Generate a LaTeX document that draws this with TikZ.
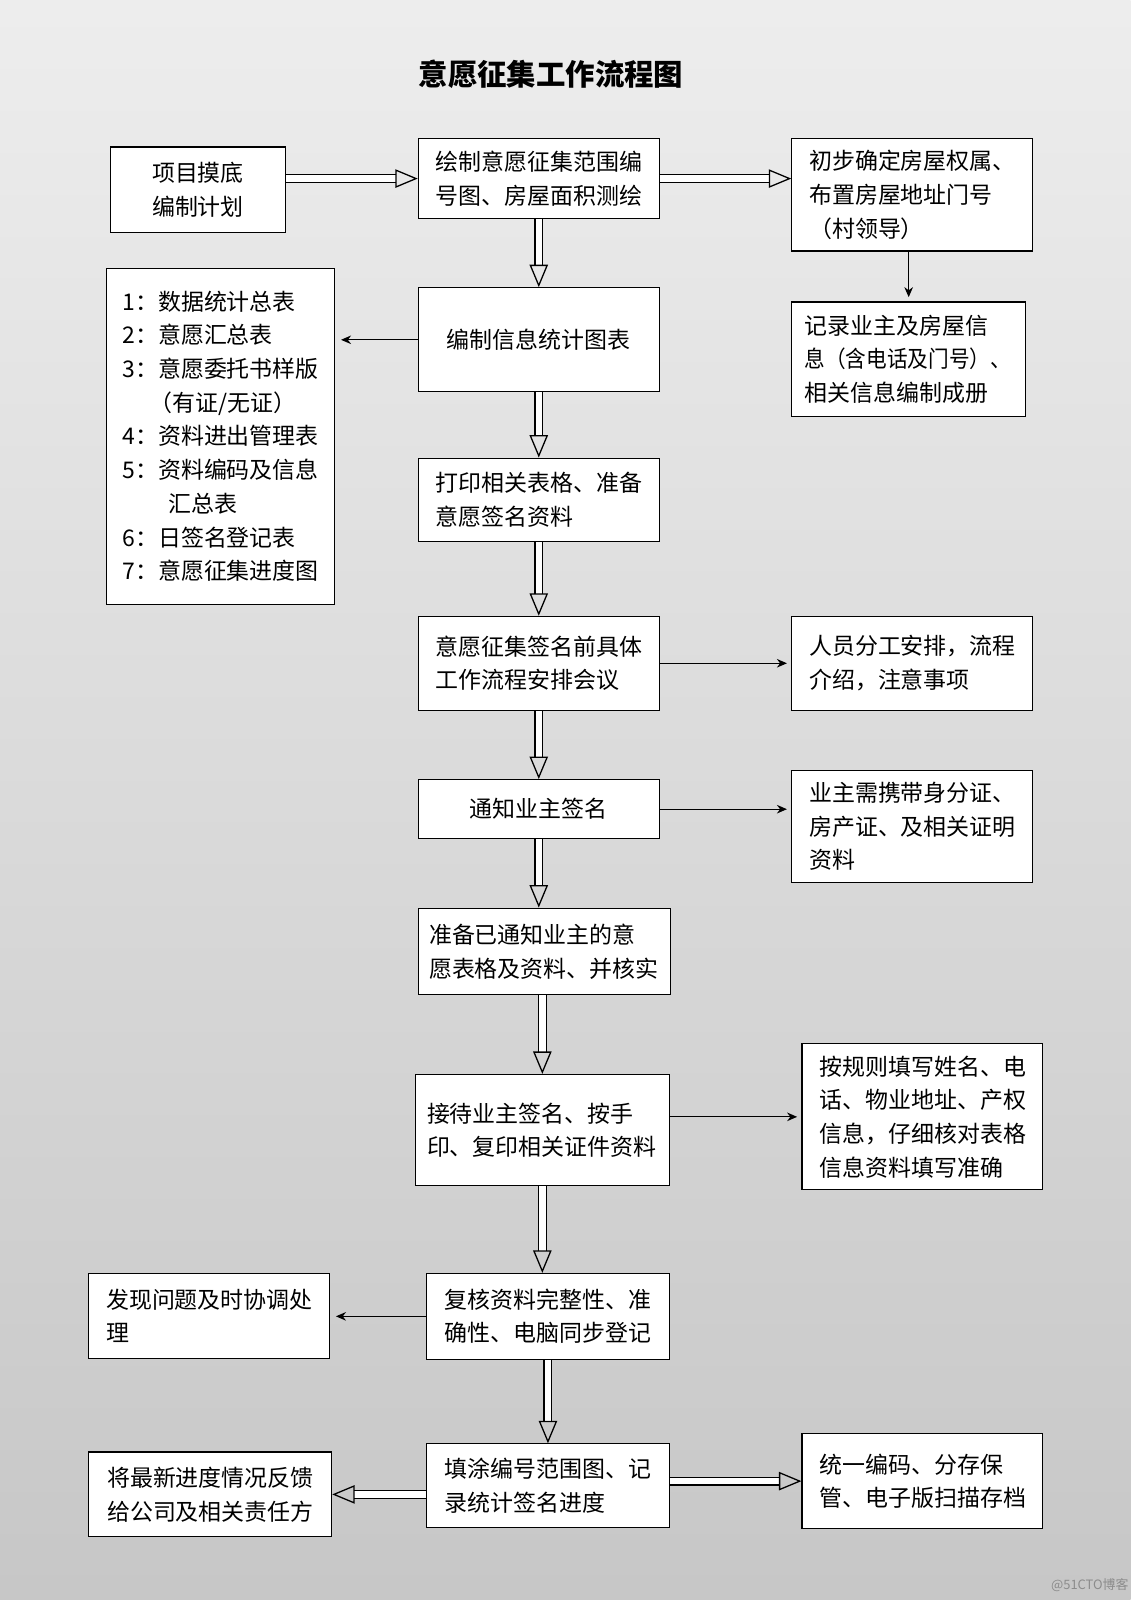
\documentclass[tikz,border=0pt]{standalone}
\usepackage{fontspec}
\setmainfont{Noto Sans CJK SC}
\usetikzlibrary{arrows.meta}

\begin{document}
\begin{tikzpicture}[x=0.025cm,y=-0.025cm]
\tikzset{box/.style=
            {draw,thick,fill=white,minimum width=5.9cm,text width=5.05cm,align=left,
             font=\fontsize{16}{23.5}\selectfont},
         hollow/.style=
            {draw,line width=0.9pt,double=white,double distance=4.5pt,
             -{Triangle[open,length=0.55cm,width=0.45cm]}},
         thin/.style=
            {draw,line width=0.8pt,-{Stealth[length=7pt,width=6pt]}}}
\useasboundingbox (0,0) rectangle (1108,1568);
\shade[top color=black!7,bottom color=black!22] (0,0) rectangle (1108,1568);

\node[font=\bfseries\fontsize{20.5}{24}\selectfont] (title) at (540,73) {意愿征集工作流程图};

\node[box,minimum width=4.3cm,text width=3.5cm,minimum height=2.1cm,align=center] (b1) at (194,186)
    {项目摸底\\编制计划};
\node[box,minimum height=1.95cm] (b2) at (528,175)
    {绘制意愿征集范围编\\号图、房屋面积测绘};
\node[box,minimum height=2.75cm] (b3) at (894,191)
    {初步确定房屋权属、\\布置房屋地址门号\\（村领导）};
\node[box,minimum width=5.725cm,text width=5.1cm,minimum height=2.8cm] (b4) at (890.5,352)
    {记录业主及房屋信\\\scalebox{0.9}[1]{息（含电话及门号）、}\\相关信息编制成册};
\node[box,minimum height=2.55cm,align=center] (b5) at (528,333)
    {编制信息统计图表};
\node[box,minimum width=5.6cm,text width=4.8cm,minimum height=8.225cm] (b6) at (216,427.5)
    {1：数据统计总表\\
     2：意愿汇总表\\
     3：意愿委托书样版\\
     \hspace*{1.2em}（有证/无证）\\
     4：资料进出管理表\\
     5：资料编码及信息\\
     \hspace*{2em}汇总表\\
     6：日签名登记表\\
     7：意愿征集进度图};
\node[box,minimum height=2.05cm] (b7) at (528,490)
    {打印相关表格、准备\\意愿签名资料};
\node[box,minimum height=2.3cm] (b8) at (528,650)
    {意愿征集签名前具体\\工作流程安排会议};
\node[box,minimum height=2.3cm] (b9) at (894,650)
    {人员分工安排，流程\\介绍，注意事项};
\node[box,minimum height=1.45cm,align=center] (b10) at (528,793)
    {通知业主签名};
\node[box,minimum height=2.75cm] (b11) at (894,810)
    {业主需携带身分证、\\房产证、及相关证明\\资料};
\node[box,minimum width=6.175cm,text width=5.65cm,minimum height=2.125cm] (b12) at (533.5,932.5)
    {准备已通知业主的意\\愿表格及资料、并核实};
\node[box,minimum width=6.225cm,text width=5.65cm,minimum height=2.725cm] (b13) at (531.5,1107.5)
    {接待业主签名、按手\\印、复印相关证件资料};
\node[box,minimum height=3.575cm] (b14) at (904,1094.5)
    {按规则填写姓名、电\\话、物业地址、产权\\信息，仔细核对表格\\信息资料填写准确};
\node[box,minimum width=5.95cm,minimum height=2.1cm] (b15) at (537,1290)
    {复核资料完整性、准\\确性、电脑同步登记};
\node[box,minimum height=2.075cm] (b16) at (205,1289.5)
    {发现问题及时协调处\\理};
\node[box,minimum width=5.95cm,minimum height=2.05cm] (b17) at (537,1456)
    {填涂编号范围图、记\\录统计签名进度};
\node[box,minimum width=5.95cm,minimum height=2.075cm] (b18) at (206,1464.5)
    {将最新进度情况反馈\\给公司及相关责任方};
\node[box,minimum height=2.325cm] (b19) at (904,1451.5)
    {统一编码、分存保\\管、电子版扫描存档};

\draw[hollow] (b1.east |- b2) -- (b2.west);
\draw[hollow] (b2.east) -- (b2.east -| b3.west);
\draw[thin] (b3.south -| b4) -- ([yshift=3pt]b4.north);
\draw[hollow] (b2.south) -- (b5.north);
\draw[thin] (b5.west) -- ([xshift=4pt]b5.west -| b6.east);
\draw[hollow] (b5.south) -- (b7.north);
\draw[hollow] (b7.south) -- (b8.north);
\draw[thin] (b8.east) -- ([xshift=-3pt]b9.west);
\draw[hollow] (b8.south) -- (b10.north);
\draw[thin] (b10.east) -- ([xshift=-3pt]b10.east -| b11.west);
\draw[hollow] (b10.south) -- (b10.south |- b12.north);
\draw[hollow] (b12.south -| b13) -- (b13.north);
\draw[thin] (b13.east |- b14) -- ([xshift=-3pt]b14.west);
\draw[hollow] (b13.south) -- (b13.south |- b15.north);
\draw[thin] (b15.west) -- ([xshift=4pt]b15.west -| b16.east);
\draw[hollow] (b15.south) -- (b17.north);
\draw[hollow] (b17.west |- b18) -- (b18.east);
\draw[hollow] (b17.east |- b19) -- (b19.west);

\node[text=black!45,font=\fontsize{9}{9}\selectfont] (mark) at (1068,1553) {@51CTO博客};
\end{tikzpicture}
\end{document}
